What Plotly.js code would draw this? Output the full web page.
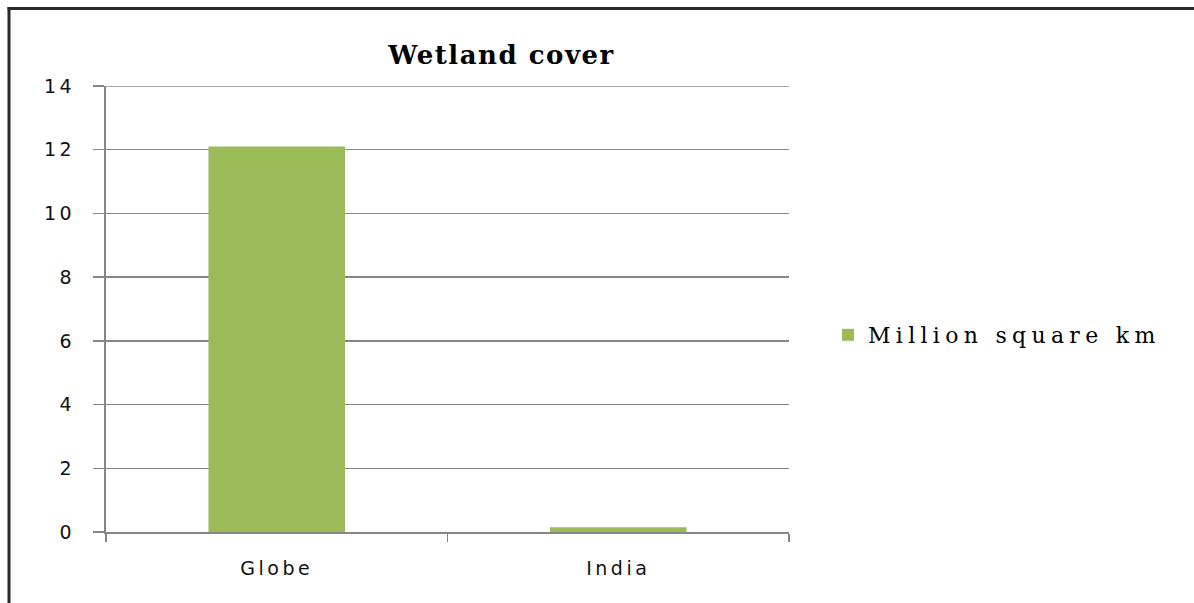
<!DOCTYPE html>
<html>
<head>
<meta charset="utf-8">
<script src="https://cdn.plot.ly/plotly-3.0.1.min.js"></script>
<style>
  html, body { margin: 0; padding: 0; background: #fff; }
  #chart { width: 1194px; height: 603px; }
  .xtick text, .ytick text { letter-spacing: 3.5px; }
  .legendtext { letter-spacing: 5.3px; }
  .gtitle { letter-spacing: 1.5px; }
</style>
</head>
<body>
<div id="chart"></div>
<script>
const categories = ["Globe", "India"];
const seriesName = "Million square km";
const values = [12.1, 0.15];
const yTickVals = [0, 2, 4, 6, 8, 10, 12, 14];
const yMax = 14;
const chartTitle = "Wetland cover";

const W = 1194, H = 603;
const M = { l: 106, r: 405, t: 86, b: 71 };
const pw = W - M.l - M.r, ph = H - M.t - M.b;
const px2x = p => (p - M.l) / pw;
const py2y = p => (H - M.b - p) / ph;

const trace = {
  type: "bar",
  x: categories,
  y: values,
  name: seriesName,
  marker: { color: "#9BBB59", line: { width: 0 } },
  showlegend: true,
  hoverinfo: "x+y"
};

const layout = {
  width: W, height: H,
  margin: M,
  paper_bgcolor: "#ffffff",
  plot_bgcolor: "#ffffff",
  bargap: 0.6,
  title: {
    text: "<b>" + chartTitle + "</b>",
    font: { family: "DejaVu Serif", size: 26, color: "#000" },
    x: 0.42, xref: "container", xanchor: "center",
    y: 1 - 55 / H, yref: "container", yanchor: "middle"
  },
  xaxis: {
    type: "category",
    tickson: "boundaries",
    ticks: "outside", ticklen: 8, tickcolor: "#868686", tickwidth: 1.5,
    showline: true, linecolor: "#868686", linewidth: 1.5,
    showgrid: false, zeroline: false,
    tickfont: { family: "DejaVu Sans", size: 19, color: "#111" },
    ticklabelstandoff: 19,
    fixedrange: true
  },
  yaxis: {
    range: [0, yMax],
    tickvals: yTickVals,
    ticktext: yTickVals.map(String),
    ticks: "outside", ticklen: 11, tickcolor: "#868686", tickwidth: 1.5,
    showline: true, linecolor: "#868686", linewidth: 2,
    showgrid: true, gridcolor: "#868686", gridwidth: 1.5,
    zeroline: false,
    tickfont: { family: "DejaVu Sans", size: 19, color: "#111" },
    ticklabelstandoff: 14,
    fixedrange: true
  },
  legend: {
    x: px2x(828), xanchor: "left",
    y: py2y(335), yanchor: "middle",
    font: { family: "DejaVu Serif", size: 22, color: "#000" },
    bgcolor: "rgba(0,0,0,0)",
    itemwidth: 30
  },
  shapes: [
    { type: "line", xref: "paper", yref: "y", layer: "below",
      x0: 0, x1: 1, y0: yMax, y1: yMax,
      line: { color: "#868686", width: 1.5 } },
    { type: "line", xref: "paper", yref: "paper",
      x0: px2x(9), x1: px2x(9), y0: py2y(7), y1: py2y(H + 5),
      line: { color: "#2a2a2a", width: 3 } },
    { type: "line", xref: "paper", yref: "paper",
      x0: px2x(7.5), x1: px2x(W + 5), y0: py2y(8.5), y1: py2y(8.5),
      line: { color: "#2a2a2a", width: 3 } }
  ]
};

Plotly.newPlot("chart", [trace], layout, { displayModeBar: false, staticPlot: true });
</script>
</body>
</html>
